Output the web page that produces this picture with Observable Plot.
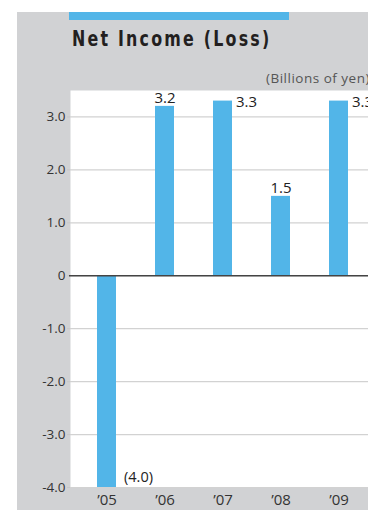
<!DOCTYPE html>
<html>
<head>
<meta charset="utf-8">
<script src="https://cdn.jsdelivr.net/npm/d3@7"></script>
<script src="https://cdn.jsdelivr.net/npm/@observablehq/plot@0.6"></script>
<style>
  html, body { margin: 0; padding: 0; background: #ffffff; }
  body { width: 368px; height: 510px; overflow: hidden; position: relative; }
  #panel { position: absolute; left: 17px; top: 12px; width: 351px; height: 498px; background: #d1d2d4; overflow: hidden; }
  #header { position: relative; height: 74px; }
  #accent { position: absolute; left: 52px; top: 0; width: 220px; height: 8px; background: #52b5e8; }
  #title { position: absolute; left: 55px; top: 14px; font-family: "Liberation Sans Narrow", "DejaVu Sans Condensed", sans-serif; font-weight: bold; font-size: 21.5px; letter-spacing: 2.7px; color: #231f20; white-space: nowrap; transform: scaleX(0.82); transform-origin: left center; }
  #units { position: absolute; left: 249px; top: 57px; font-family: "Open Sans", sans-serif; font-size: 13.5px; letter-spacing: 0.5px; color: #555; white-space: nowrap; }
  #chart svg { display: block; }
</style>
</head>
<body>
<div id="panel">
  <div id="header">
    <div id="accent"></div>
    <div id="title">Net Income (Loss)</div>
    <div id="units">(Billions of yen)</div>
  </div>
  <div id="chart"></div>
</div>
<script>
const years = ["’05", "’06", "’07", "’08", "’09"];
const netIncome = [-4.0, 3.2, 3.3, 1.5, 3.3];
const yTicks = [3, 2, 1, 0, -1, -2, -3, -4];

const data = years.map((year, i) => ({year, value: netIncome[i]}));
const fmtValue = v => v < 0 ? `(${Math.abs(v).toFixed(1)})` : v.toFixed(1);
const fmtTick = v => v === 0 ? "0" : v.toFixed(1);

const aboveYears = ["’06", "’08"];
const font = "Open Sans, sans-serif";

const chart = Plot.plot({
  width: 351,
  height: 424,
  marginTop: 4,
  marginBottom: 23,
  marginLeft: 53,
  marginRight: 0,
  style: {background: "transparent", fontFamily: font},
  x: {domain: years, type: "band", paddingInner: 0.673, paddingOuter: 0.3365, insetLeft: 7.5, label: null},
  y: {domain: [-4, 3.5], label: null},
  marks: [
    Plot.frame({fill: "white", stroke: null}),
    Plot.gridY(yTicks, {stroke: "#d2d2d2", strokeOpacity: 1, strokeWidth: 1.2}),
    Plot.axisY(yTicks, {tickSize: 3, tickPadding: 2, stroke: "#c8c8c8", fill: "#333", fontSize: 13.5, tickFormat: fmtTick, label: null}),
    Plot.axisX({tickSize: 0, tickPadding: 7, fill: "#333", fontSize: 15, label: null}),
    Plot.barY(data, {x: "year", y: "value", fill: "#52b5e8"}),
    Plot.ruleY([0], {stroke: "#444", strokeWidth: 1.6, insetLeft: -1}),
    Plot.text(data.filter(d => aboveYears.includes(d.year)), {x: "year", y: "value", text: d => fmtValue(d.value), lineAnchor: "bottom", dy: -3, fontSize: 15, fill: "#222"}),
    Plot.text(data.filter(d => d.value > 0 && !aboveYears.includes(d.year)), {x: "year", y: "value", text: d => fmtValue(d.value), textAnchor: "start", lineAnchor: "middle", dx: 13, dy: 1, fontSize: 15, fill: "#222", fontWeight: d => d.year === "’09" ? "bold" : "normal"}),
    Plot.text(data.filter(d => d.value < 0), {x: "year", y: "value", text: d => fmtValue(d.value), textAnchor: "start", lineAnchor: "middle", dx: 17, dy: -10, fontSize: 14.5, fill: "#222", style: "letter-spacing:0.6px"})
  ]
});
document.getElementById("chart").appendChild(chart);
</script>
</body>
</html>
